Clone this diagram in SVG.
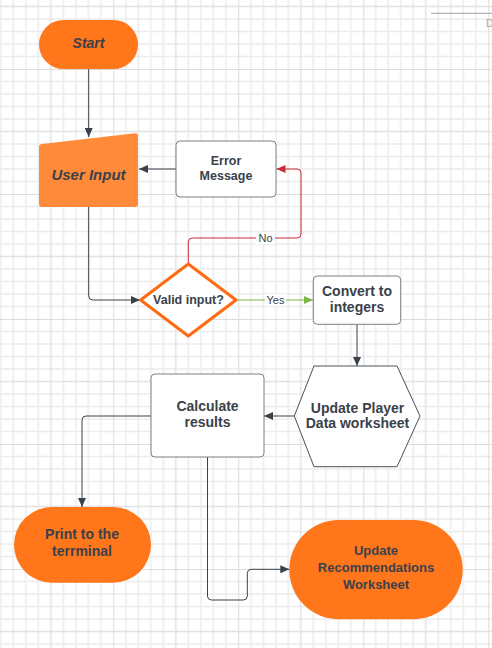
<svg xmlns="http://www.w3.org/2000/svg" width="492" height="648" viewBox="0 0 492 648">
<defs>
<pattern id="grid" patternUnits="userSpaceOnUse" x="113.3" y="69" width="125" height="125">
<path d="M12.5,0V125M25,0V125M37.5,0V125M50,0V125M75,0V125M87.5,0V125M100,0V125M112.5,0V125M0,12.5H125M0,25H125M0,37.5H125M0,50H125M0,75H125M0,87.5H125M0,100H125M0,112.5H125" stroke="#ececec" stroke-width="1.5" fill="none"/>
<path d="M62.5,0V125M0,62.5H125" stroke="#e2e2e2" stroke-width="1.5" fill="none"/>
<path d="M0,0V125M0,0H125" stroke="#dcdcdc" stroke-width="2" fill="none"/>
</pattern>
<marker id="ah" markerUnits="userSpaceOnUse" markerWidth="10" markerHeight="8" refX="9" refY="4" orient="auto"><path d="M0,0L9,4L0,8z" fill="#3a414a"/></marker>
<marker id="ahr" markerUnits="userSpaceOnUse" markerWidth="10" markerHeight="8" refX="9" refY="4" orient="auto"><path d="M0,0L9,4L0,8z" fill="#c92d39"/></marker>
<marker id="ahg" markerUnits="userSpaceOnUse" markerWidth="10" markerHeight="8" refX="9" refY="4" orient="auto"><path d="M0,0L9,4L0,8z" fill="#7ab648"/></marker>
</defs>
<style>
.t{font-family:"Liberation Sans",Arial,sans-serif;font-weight:bold;fill:#3a414a;text-anchor:middle}
.i{font-style:italic}
.lbl{font-family:"Liberation Sans",Arial,sans-serif;font-size:11px;fill:#3a414a;text-anchor:middle}
.c{fill:none;stroke:#3a414a;stroke-width:1}
.box{fill:#ffffff;stroke:#7a7f87;stroke-width:1}
</style>
<rect width="492" height="648" fill="#ffffff"/>
<rect width="492" height="648" fill="url(#grid)"/>
<path d="M431,13.3H492" stroke="#9aa0a8" stroke-width="1"/>
<text x="486" y="27" font-family="Liberation Sans, Arial, sans-serif" font-size="10" fill="#a0a4ab">D</text>

<g id="connectors">
<path class="c" d="M88.7,69V137" marker-end="url(#ah)"/>
<path class="c" d="M176,169H139" marker-end="url(#ah)"/>
<path class="c" d="M88.7,207V296Q88.7,300 92.7,300H140" marker-end="url(#ah)"/>
<path fill="none" stroke="#c92d39" stroke-width="1" d="M188.3,263V242Q188.3,238 192.3,238H297Q301,238 301,234V173Q301,169 297,169H276.5" marker-end="url(#ahr)"/>
<rect x="256" y="232" width="19" height="12" fill="#ffffff"/>
<text class="lbl" x="265.5" y="242">No</text>
<path fill="none" stroke="#7ab648" stroke-width="1" d="M237,300H313" marker-end="url(#ahg)"/>
<rect x="265" y="294" width="21" height="12" fill="#ffffff"/>
<text class="lbl" x="275.5" y="304">Yes</text>
<path class="c" d="M357,324.3V366" marker-end="url(#ah)"/>
<path class="c" d="M294.3,416H264" marker-end="url(#ah)"/>
<path class="c" d="M151,416H86Q82,416 82,420V507" marker-end="url(#ah)"/>
<path class="c" d="M207.5,457V596Q207.5,600 211.5,600H243.3Q247.3,600 247.3,596V573.3Q247.3,569.3 251.3,569.3H289.3" marker-end="url(#ah)"/>
</g>

<g id="start">
<rect x="39" y="20" width="99" height="49" rx="24.5" fill="#ff761b"/>
<text class="t i" x="88.5" y="47.5" font-size="14">Start</text>
</g>

<g id="user-input">
<path d="M42,144L135,133.3Q138,133 138,136V204Q138,207 135,207H42Q39,207 39,204V147Q39,144.3 42,144z" fill="#ff8b3a"/>
<text class="t i" x="88.5" y="179.5" font-size="15">User Input</text>
</g>

<g id="error-message">
<rect class="box" x="176" y="141" width="100" height="56" rx="4"/>
<text class="t" x="226" y="165" font-size="12.5">Error</text>
<text class="t" x="226" y="180" font-size="12.5">Message</text>
</g>

<g id="valid-input">
<path d="M188.3,264L236,300L188.3,336L140.6,300z" fill="#ffffff" stroke="#ff6a13" stroke-width="3" stroke-linejoin="round"/>
<text class="t" x="188.5" y="304" font-size="12.5">Valid input?</text>
</g>

<g id="convert">
<rect class="box" x="313.3" y="276" width="87.4" height="48.3" rx="4"/>
<text class="t" x="357" y="295.5" font-size="14">Convert to</text>
<text class="t" x="357" y="312.3" font-size="14">integers</text>
</g>

<g id="update-player">
<path d="M314,366H397L420,416L397,466.7H314L294.3,416z" fill="#ffffff" stroke="#4a5059" stroke-width="1" stroke-linejoin="round"/>
<text class="t" x="357.5" y="412.5" font-size="14">Update Player</text>
<text class="t" x="357.5" y="427.5" font-size="14">Data worksheet</text>
</g>

<g id="calculate">
<rect class="box" x="151" y="374" width="113" height="83" rx="4"/>
<text class="t" x="207.5" y="410.7" font-size="14">Calculate</text>
<text class="t" x="207.5" y="427.3" font-size="14">results</text>
</g>

<g id="print">
<rect x="14" y="507" width="137" height="75.7" rx="37.8" fill="#ff761b"/>
<text class="t" x="82" y="539.3" font-size="14">Print to the</text>
<text class="t" x="82" y="556" font-size="14">terrminal</text>
</g>

<g id="update-recs">
<rect x="289.3" y="520" width="173.4" height="99.3" rx="49.6" fill="#ff761b"/>
<text class="t" x="376" y="555" font-size="13">Update</text>
<text class="t" x="376" y="572.3" font-size="13">Recommendations</text>
<text class="t" x="376" y="589" font-size="13">Worksheet</text>
</g>
</svg>
